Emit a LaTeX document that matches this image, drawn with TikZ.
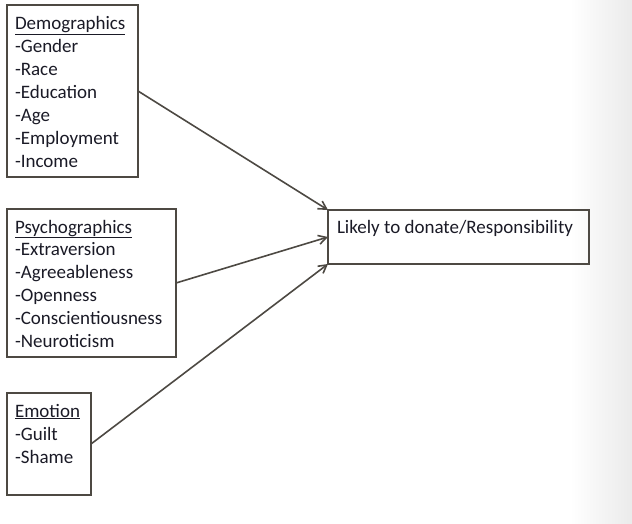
\documentclass[tikz,border=0pt]{standalone}
\usepackage{fontspec}
\setmainfont{Carlito}
\usepackage{tikz}
\usetikzlibrary{arrows.meta,positioning}
\definecolor{boxgray}{HTML}{4D4943}
\definecolor{inkdark}{HTML}{1A1A26}
% text block: total height, width, first-baseline drop, lines
\newcommand{\topblock}[4]{\parbox[t][#1][t]{#2}{\rule{0pt}{#3}#4}}

\begin{document}
\begin{tikzpicture}[
  x=1pt, y=-1pt,
  every node/.style={font=\fontsize{19}{23}\selectfont, text=inkdark},
  box/.style={rectangle, draw=boxgray, line width=1.8pt, anchor=north west,
    inner xsep=8pt, inner ysep=6pt, outer sep=0pt},
  link/.style={draw=boxgray, line width=1.6pt, -{Straight Barb[length=8pt,width=9pt]}},
]
  \useasboundingbox (0,0) rectangle (632,524);
  %% slide edge shading
  \shade[left color=white, right color=black!8] (570,0) rectangle (632,524);

  %% Left column: the three groups of predictors
  \node[box] (demo) at (7,5)
    {\topblock{160pt}{115pt}{19pt}{\underline{Demographics}\\-Gender\\-Race\\-Education\\-Age\\-Employment\\-Income}};
  \node[box] (psycho) at (7,209)
    {\topblock{136pt}{153pt}{18pt}{\underline{Psychographics}\\-Extraversion\\-Agreeableness\\-Openness\\-Conscientiousness\\-Neuroticism}};
  \node[box] (emotion) at (7,393)
    {\topblock{90pt}{68pt}{18pt}{\underline{Emotion}\\-Guilt\\-Shame}};

  %% Right: outcome
  \node[box, inner xsep=9pt] (likely) at (328,210)
    {\topblock{42pt}{243pt}{17pt}{Likely to donate/Responsibility}};

  %% Arrows into the outcome box
  \draw[link] (demo.east) -- (likely.north west);
  \draw[link] (psycho.east) -- (likely.west);
  \draw[link] (emotion.east) -- (likely.south west);
\end{tikzpicture}
\end{document}
